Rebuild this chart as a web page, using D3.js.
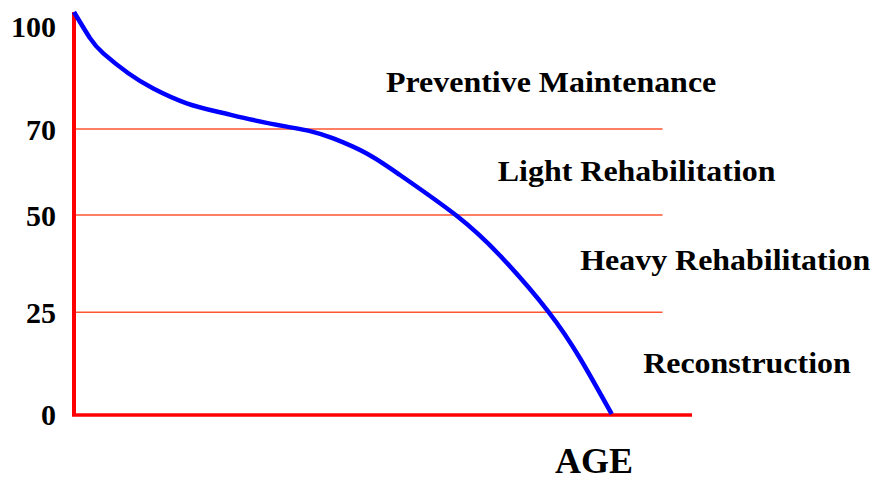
<!DOCTYPE html>
<html>
<head>
<meta charset="utf-8">
<script src="https://cdn.jsdelivr.net/npm/d3@7"></script>
<style>
  body { margin: 0; background: #fff; }
  text { font-family: "Liberation Serif", "Times New Roman", serif; font-weight: bold; fill: #000; }
</style>
</head>
<body>
<div class="chart"></div>
<script>
// condition curve (age, condition index)
var ages = [0, 2.72, 4.98, 9.23, 13.47, 19.15, 24.8, 30.46, 36.14, 40.1, 44.05, 49.73,
            55.39, 65.02, 72.8, 80.58, 85.97, 91.35];
var condition = [100, 93.3, 89.4, 84.3, 80.4, 76.6, 74.3, 72.3, 70.6, 69.5, 67.8, 64.3,
                 59.3, 49.8, 38.9, 25.2, 13.7, 0];

var thresholds = [70, 50, 25];
var tickValues = [100, 70, 50, 25, 0];

var bandNames = ["Preventive Maintenance", "Light Rehabilitation", "Heavy Rehabilitation", "Reconstruction"];
var bandLabelAge = [53.0, 72.0, 86.0, 96.7];
var bandLabelValue = [79.5, 57.8, 35.9, 10.1];

var xTitle = "AGE";

var svgWidth = 875;
var svgHeight = 480;

var svg = d3.select(".chart")
            .append("svg")
            .attr("width", svgWidth)
            .attr("height", svgHeight);

var xScale = d3.scaleLinear()
  .domain([0, 105])
  .range([74, 692]);

// the original's bands are not evenly spaced, so the scale is piecewise
var yScale = d3.scaleLinear()
  .domain([0, 25, 50, 70, 100])
  .range([414, 312.3, 215, 129, 12]);

// threshold lines
svg.selectAll(".threshold")
   .data(thresholds)
   .enter()
   .append("line")
   .attr("class", "threshold")
   .attr("x1", xScale(0))
   .attr("x2", xScale(100))
   .attr("y1", d => yScale(d))
   .attr("y2", d => yScale(d))
   .attr("stroke", "#ff5533")
   .attr("stroke-width", 1.5);

// axes (plain red lines, no ticks)
svg.append("line")
   .attr("x1", xScale(0))
   .attr("x2", xScale(0))
   .attr("y1", yScale(100))
   .attr("y2", yScale(0) + 2)
   .attr("stroke", "#ff0000")
   .attr("stroke-width", 4);

svg.append("line")
   .attr("x1", xScale(0) - 2)
   .attr("x2", xScale(105))
   .attr("y1", yScale(0) + 1)
   .attr("y2", yScale(0) + 1)
   .attr("stroke", "#ff0000")
   .attr("stroke-width", 3.5);

// tick labels
svg.selectAll(".tick-label")
   .data(tickValues)
   .enter()
   .append("text")
   .attr("class", "tick-label")
   .attr("x", 56)
   .attr("y", d => Math.max(yScale(d), 26) + 11)
   .attr("text-anchor", "end")
   .style("font-size", "30px")
   .text(d => d);

// the curve
var line = d3.line()
  .x((d, i) => xScale(ages[i]))
  .y(d => yScale(d))
  .curve(d3.curveNatural);

svg.append("path")
   .datum(condition)
   .attr("d", line)
   .attr("fill", "none")
   .attr("stroke", "#0000ff")
   .attr("stroke-width", 4.5);

// band labels, a bit wider than Liberation Serif
svg.selectAll(".band-label")
   .data(bandNames)
   .enter()
   .append("text")
   .attr("class", "band-label")
   .attr("transform", (d, i) => `translate(${xScale(bandLabelAge[i])}, ${yScale(bandLabelValue[i])}) scale(1.065, 1)`)
   .style("font-size", "30px")
   .text(d => d);

svg.append("text")
   .attr("x", 555)
   .attr("y", 473)
   .style("font-size", "36px")
   .text(xTitle);
</script>
</body>
</html>
